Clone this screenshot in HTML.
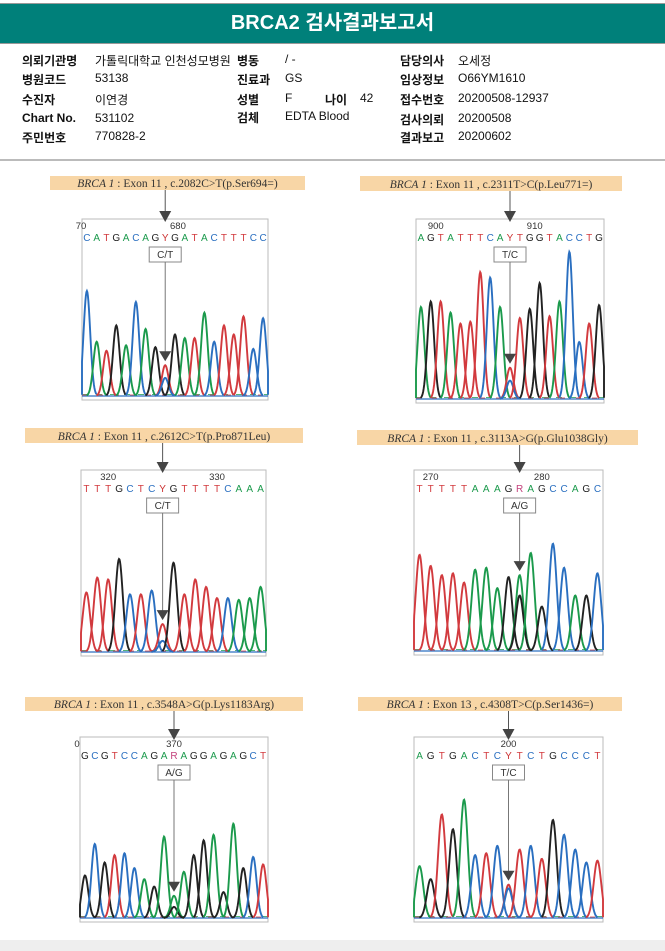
<!DOCTYPE html>
<html><head><meta charset="utf-8">
<style>
body{margin:0;width:665px;height:951px;background:#fff;font-family:"Liberation Sans","Noto Sans CJK KR",sans-serif;position:relative;overflow:hidden}
.hdr{position:absolute;left:0;top:3px;width:665px;height:39px;background:#00807a;border-top:1px solid #999;border-bottom:1px solid #999;color:#fff;font-weight:bold;font-size:20px;text-align:center;line-height:39px}
.info{position:absolute;font-size:12px;color:#111;white-space:nowrap}
.b{font-weight:bold}
.sep{position:absolute;left:0;top:159px;width:665px;height:2px;background:#bbb}
.bot{position:absolute;left:0;top:940px;width:665px;height:11px;background:#eee}
svg{position:absolute;left:0;top:0}
</style></head><body>
<div class="hdr">BRCA2 검사결과보고서</div>
<div>
<div class="info b" style="left:22px;top:52px">의뢰기관명</div><div class="info" style="left:95px;top:52px">가톨릭대학교 인천성모병원</div>
<div class="info b" style="left:237px;top:52px">병동</div><div class="info" style="left:285px;top:52px">/ -</div>
<div class="info b" style="left:400px;top:52px">담당의사</div><div class="info" style="left:458px;top:52px">오세정</div>
<div class="info b" style="left:22px;top:71px">병원코드</div><div class="info" style="left:95px;top:71px">53138</div>
<div class="info b" style="left:237px;top:71px">진료과</div><div class="info" style="left:285px;top:71px">GS</div>
<div class="info b" style="left:400px;top:71px">임상정보</div><div class="info" style="left:458px;top:71px">O66YM1610</div>
<div class="info b" style="left:22px;top:91px">수진자</div><div class="info" style="left:95px;top:91px">이연경</div>
<div class="info b" style="left:237px;top:91px">성별</div><div class="info" style="left:285px;top:91px">F</div>
<div class="info b" style="left:325px;top:91px">나이</div><div class="info" style="left:360px;top:91px">42</div>
<div class="info b" style="left:400px;top:91px">접수번호</div><div class="info" style="left:458px;top:91px">20200508-12937</div>
<div class="info b" style="left:22px;top:111px">Chart No.</div><div class="info" style="left:95px;top:111px">531102</div>
<div class="info b" style="left:237px;top:109px">검체</div><div class="info" style="left:285px;top:109px">EDTA Blood</div>
<div class="info b" style="left:400px;top:111px">검사의뢰</div><div class="info" style="left:458px;top:111px">20200508</div>
<div class="info b" style="left:22px;top:129px">주민번호</div><div class="info" style="left:95px;top:129px">770828-2</div>
<div class="info b" style="left:400px;top:129px">결과보고</div><div class="info" style="left:458px;top:129px">20200602</div>
</div>
<div class="sep"></div>
<div class="bot"></div>
<svg id="chart" width="665" height="951" xmlns="http://www.w3.org/2000/svg"></svg>
<script>
// data
const titles=["c.2082C>T(p.Ser694=)","c.2311T>C(p.Leu771=)","c.2612C>T(p.Pro871Leu)","c.3113A>G(p.Glu1038Gly)","c.3548A>G(p.Lys1183Arg)","c.4308T>C(p.Ser1436=)"];
const exons=["11","11","11","11","11","13"];
const calls=["C/T","T/C","C/T","A/G","A/G","T/C"];
const seqs=["CATGACAGYGATACTTTCC","AGTATTTCAYTGGTACCTG","TTTGCTCYGTTTTCAAA","TTTTTAAAGRAGCCAGC","GCGTCCAGARAGGAGAGCT","AGTGACTCYTCTGCCCT"];
const heights=[
[.58,.3,.25,.39,.28,.52,.37,.27,.17,.34,.32,.32,.46,.3,.39,.34,.44,.26,.43],
[.5,.53,.53,.47,.41,.42,.69,.66,.5,.17,.44,.49,.63,.45,.53,.8,.31,.41,.51],
[.32,.4,.39,.5,.31,.31,.33,.15,.48,.31,.39,.35,.29,.29,.28,.29,.35],
[.52,.46,.41,.42,.37,.44,.45,.34,.4,.41,.53,.24,.58,.45,.3,.3,.42],
[.23,.4,.3,.34,.35,.27,.21,.17,.44,.12,.25,.34,.42,.45,.14,.51,.27,.33,.29],
[.28,.21,.56,.48,.64,.34,.35,.39,.18,.37,.39,.32,.53,.45,.37,.3,.31]];
const secondH=[.1,.1,.06,.3,.06,.16];
const posLabels=[["70","680"],["900","910"],["320","330"],["270","280"],["0","370"],["200"]];
const posIdx=[[-0.6,9.3],[1.5,11.5],[2,12],[1,11],[-0.8,9],[8]];
// layout
const boxes=[[82,219,186,181],[416,219,188,184],[81,470,185,186],[414,470,189,185],[80,737,188,185],[414,737,189,185]];
const labels=[[50,176,255,14],[360,176,262,15],[25,428,278,15],[357,430,281,15],[25,697,278,14],[358,697,264,14]];
const COL={A:"#1b9a4c",C:"#2a6fc0",G:"#222",T:"#d23a3e",Y:"#c33",R:"#c3417c"};
const AMB={Y:["T","C"],R:["A","G"]};
const NS="http://www.w3.org/2000/svg";
const svg=document.getElementById('chart');
function mk(t,a,p){const e=document.createElementNS(NS,t);for(const k in a)e.setAttribute(k,a[k]);(p||svg).appendChild(e);return e;}
boxes.forEach((bx,i)=>{
  const [x,y,w,h]=bx, L=labels[i], seq=seqs[i], n=seq.length;
  const g=mk('g',{});
  
  
  const lr=mk('rect',{x:L[0],y:L[1],width:L[2],height:L[3],fill:'#f8d6a6'},g);
  
  
  const lt=mk('text',{x:L[0]+L[2]/2,y:L[1]+L[3]-3,'text-anchor':'middle','font-family':'"Liberation Serif",serif','font-size':'11.5',fill:'#333'},g);
  
  
  lt.innerHTML='<tspan font-style="italic">BRCA 1</tspan> : Exon '+exons[i]+' , '+titles[i].replace(/>/g,'&gt;');
  const br=mk('rect',{x:x,y:y,width:w,height:h,fill:'#fff',stroke:'#bbb','stroke-width':1},g);
  
  
  const sp=w/n, xs=k=>x+sp*(k+0.5);
  const base=y+h-4, sy=v=>base-v*h;
  posLabels[i].forEach((p,j)=>{const t=mk('text',{x:xs(posIdx[i][j]),y:y+10,'font-size':'9.5','text-anchor':'middle',fill:'#333'},g);t.textContent=p;
    
    });
  let mi=seq.search(/[YR]/);
  for(let k=0;k<n;k++){const c=seq[k];const t=mk('text',{x:xs(k),y:y+22,'font-size':'10','text-anchor':'middle',fill:COL[c]},g);t.textContent=c;
    
    }
  mk('line',{x1:x,x2:x+w,y1:base,y2:base,stroke:'#2a6fc0','stroke-width':1.2},g);
  mk('line',{x1:x,x2:x+w,y1:base-1.5,y2:base-1.5,stroke:'#1b9a4c','stroke-width':0.8,'stroke-dasharray':'6 8'},g);
  mk('line',{x1:x,x2:x+w,y1:base-1,y2:base-1,stroke:'#d23a3e','stroke-width':0.8,'stroke-dasharray':'5 11'},g);
  const sig=sp*0.34;
  for(let k=0;k<n;k++){
    const c=seq[k];
    let pk=[[c,heights[i][k]]];
    if(AMB[c]) pk=[[AMB[c][0],heights[i][k]],[AMB[c][1],secondH[i]]];
    pk.forEach(([b,v])=>{
      let d='';const cx=xs(k);
      for(let dx=-3*sig;dx<=3*sig+0.01;dx+=0.5){const xx=Math.max(x,Math.min(x+w,cx+dx));d+=(d?'L':'M')+xx.toFixed(1)+','+sy(v*Math.exp(-dx*dx/(2*sig*sig))).toFixed(1);}
      const p=mk('path',{d:d,fill:'none',stroke:COL[b],'stroke-width':1.9},g);
      
      
    });
  }
  const mx=xs(mi);
  mk('line',{x1:mx,x2:mx,y1:L[1]+L[3],y2:y-2,stroke:'#555','stroke-width':1},g);
  mk('polygon',{points:(mx-6)+','+(y-8)+' '+(mx+6)+','+(y-8)+' '+mx+','+(y+3),fill:'#444'},g);
  const cb=mk('rect',{x:mx-16,y:y+28,width:32,height:15,fill:'#fff',stroke:'#888'},g);
  
  
  const ct=mk('text',{x:mx,y:y+39,'font-size':'10','text-anchor':'middle',fill:'#333'},g);ct.textContent=calls[i];
  
  
  const ty=sy(Math.max(heights[i][mi],secondH[i]))-4;
  mk('line',{x1:mx,x2:mx,y1:y+43,y2:ty-8,stroke:'#777','stroke-width':1},g);
  mk('polygon',{points:(mx-6)+','+(ty-10)+' '+(mx+6)+','+(ty-10)+' '+mx+','+ty,fill:'#444'},g);
});
</script>
</body></html>
